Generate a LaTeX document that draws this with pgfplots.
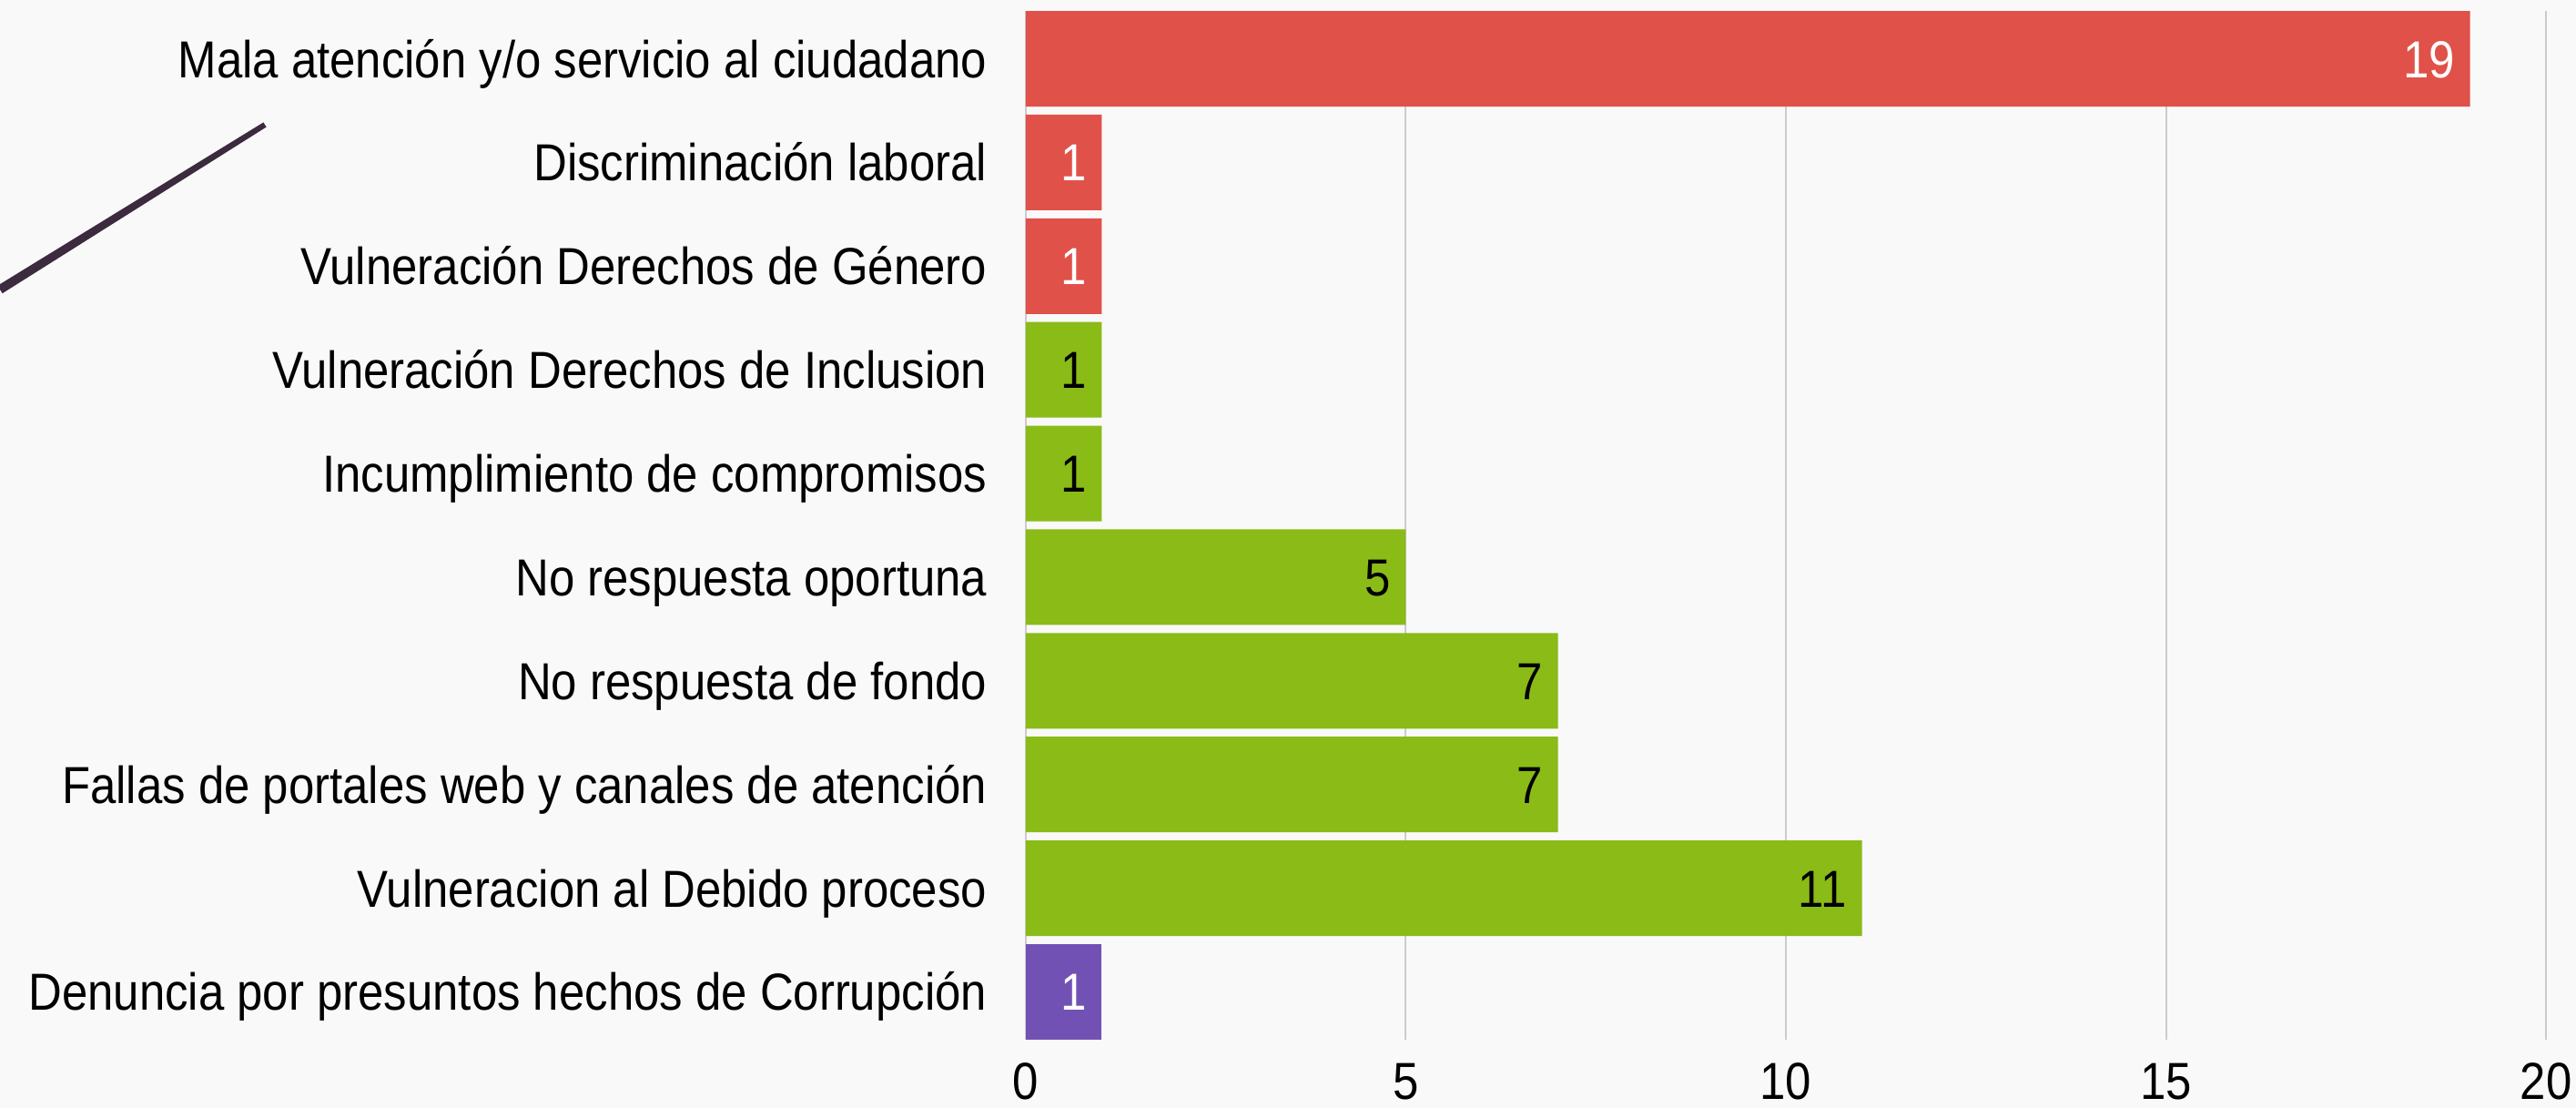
\documentclass[border=0pt]{standalone}
\usepackage{fontspec}
\setmainfont{Liberation Sans}[FakeStretch=0.89]
\usepackage{pgfplots}
\pgfplotsset{compat=1.18}
\definecolor{bg}{HTML}{F9F9F9}
\definecolor{cred}{HTML}{E05149}
\definecolor{cgreen}{HTML}{8ABB17}
\definecolor{cpurple}{HTML}{7152B4}
\definecolor{cgrid}{HTML}{CCCCCC}
\definecolor{cline}{HTML}{3C2A3E}
\begin{document}
\begin{tikzpicture}
\useasboundingbox (0,0) rectangle (707.5pt,304.25pt);
\fill[bg] (0,0) rectangle (707.5pt,304.25pt);
\fill[cline] (-0.66pt,225.81pt) -- (0.66pt,223.69pt) -- (73.15pt,269.36pt) -- (72.36pt,270.64pt) -- cycle;
\begin{axis}[
  at={(281.75pt,18.75pt)}, anchor=south west,
  scale only axis, width=417.5pt, height=282.5pt,
  xbar, bar width=0.922, bar shift=0pt,
  xmin=0, xmax=20, ymin=-0.461, ymax=9.461, y dir=reverse,
  xtick={0,5,10,15,20}, ytick={0,1,2,3,4,5,6,7,8,9},
  yticklabels={Mala atención y/o servicio al ciudadano, Discriminación laboral, Vulneración Derechos de Género, Vulneración Derechos de Inclusion, Incumplimiento de compromisos, No respuesta oportuna, No respuesta de fondo, Fallas de portales web y canales de atención, Vulneracion al Debido proceso, Denuncia por presuntos hechos de Corrupción},
  xmajorgrids, ymajorgrids=false, grid style={cgrid, line width=0.5pt},
  axis line style={draw=none}, major tick length=0pt,
  tick label style={font=\fontsize{14.3}{17}\selectfont, text=black},
  /pgf/number format/assume math mode=true,
  yticklabel style={anchor=east, inner sep=0pt, xshift=-10.5pt, text height=10.25pt, text depth=0pt},
  xticklabel style={anchor=north, inner sep=0pt, yshift=-6.25pt, text height=10pt, text depth=0pt},
  point meta=x,
  nodes near coords,
  every node near coord/.append style={anchor=east, inner sep=0pt, xshift=-4pt, font=\fontsize{14.3}{17}\selectfont, text height=10.25pt, text depth=0pt},
]
\addplot[fill=cred, draw=none, every node near coord/.append style={text=white}] coordinates {(19,0) (1,1) (1,2)};
\addplot[fill=cgreen, draw=none, every node near coord/.append style={text=black}] coordinates {(1,3) (1,4) (5,5) (7,6) (7,7) (11,8)};
\addplot[fill=cpurple, draw=none, every node near coord/.append style={text=white}] coordinates {(1,9)};
\end{axis}
\end{tikzpicture}
\end{document}
